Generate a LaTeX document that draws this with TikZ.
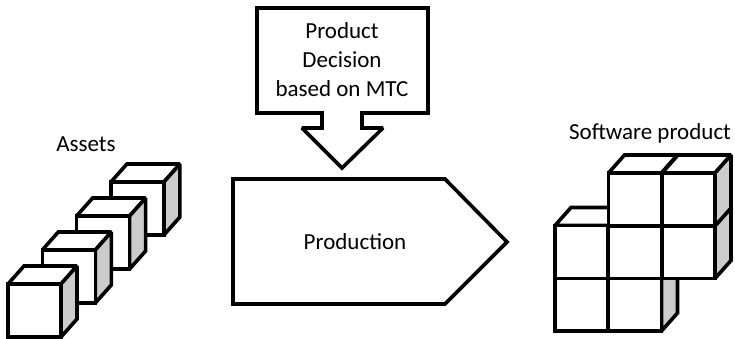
\documentclass[tikz,border=0pt]{standalone}
\usepackage{fontspec}
\setmainfont{Carlito}
\usepackage{tikz}
\usetikzlibrary{positioning,calc}
\definecolor{sidegray}{gray}{0.8}
\tikzset{
  outline/.style={draw=black, line width=3.6pt, line join=miter, miter limit=2, fill=white},
  label/.style={font=\fontsize{23}{29}\selectfont, align=center, anchor=base},
}
% one cube: top-left corner of the front face at (#1,#2)
\newcommand{\blockcube}[2]{%
  \draw[outline] (#1,#2) -- ++(16,-18) -- ++(53,0) -- ++(-16,18) -- cycle;
  \draw[outline, fill=sidegray] (#1+53,#2) -- ++(16,-18) -- ++(0,53) -- ++(-16,18) -- cycle;
  \draw[outline] (#1,#2) rectangle ++(53,53);
}

\begin{document}
\begin{tikzpicture}[x=1pt, y=-1pt]
    \useasboundingbox (0,0) rectangle (735,339);
    % assets, back to front
    \foreach \i in {3,2,1,0} {
        \blockcube{8+34.3*\i}{284-34*\i}
    }
    \node[label] (assets) at (86,152) {Assets};
    % decision callout
    \draw[outline] (257,8) -- (428,8) -- (428,113) -- (362,113) -- (362,128)
        -- (383,128) -- (342,168) -- (302,128) -- (322,128) -- (322,113)
        -- (257,113) -- cycle;
    \node[label] (decision) at (342,97) {Product\\Decision\\based on MTC};
    % production step
    \draw[outline] (233,179) -- (445,179) -- (507,242) -- (445,304) -- (233,304) -- cycle;
    \node[label] (production) at (355,249) {Production};
    % software product
    \foreach \c/\r in {0/2,1/2,0/1,1/1,2/1,1/0,2/0} {
        \blockcube{555+53.5*\c}{173+52.5*\r}
    }
    \node[label] (product) at (650,140) {Software product};
\end{tikzpicture}
\end{document}
